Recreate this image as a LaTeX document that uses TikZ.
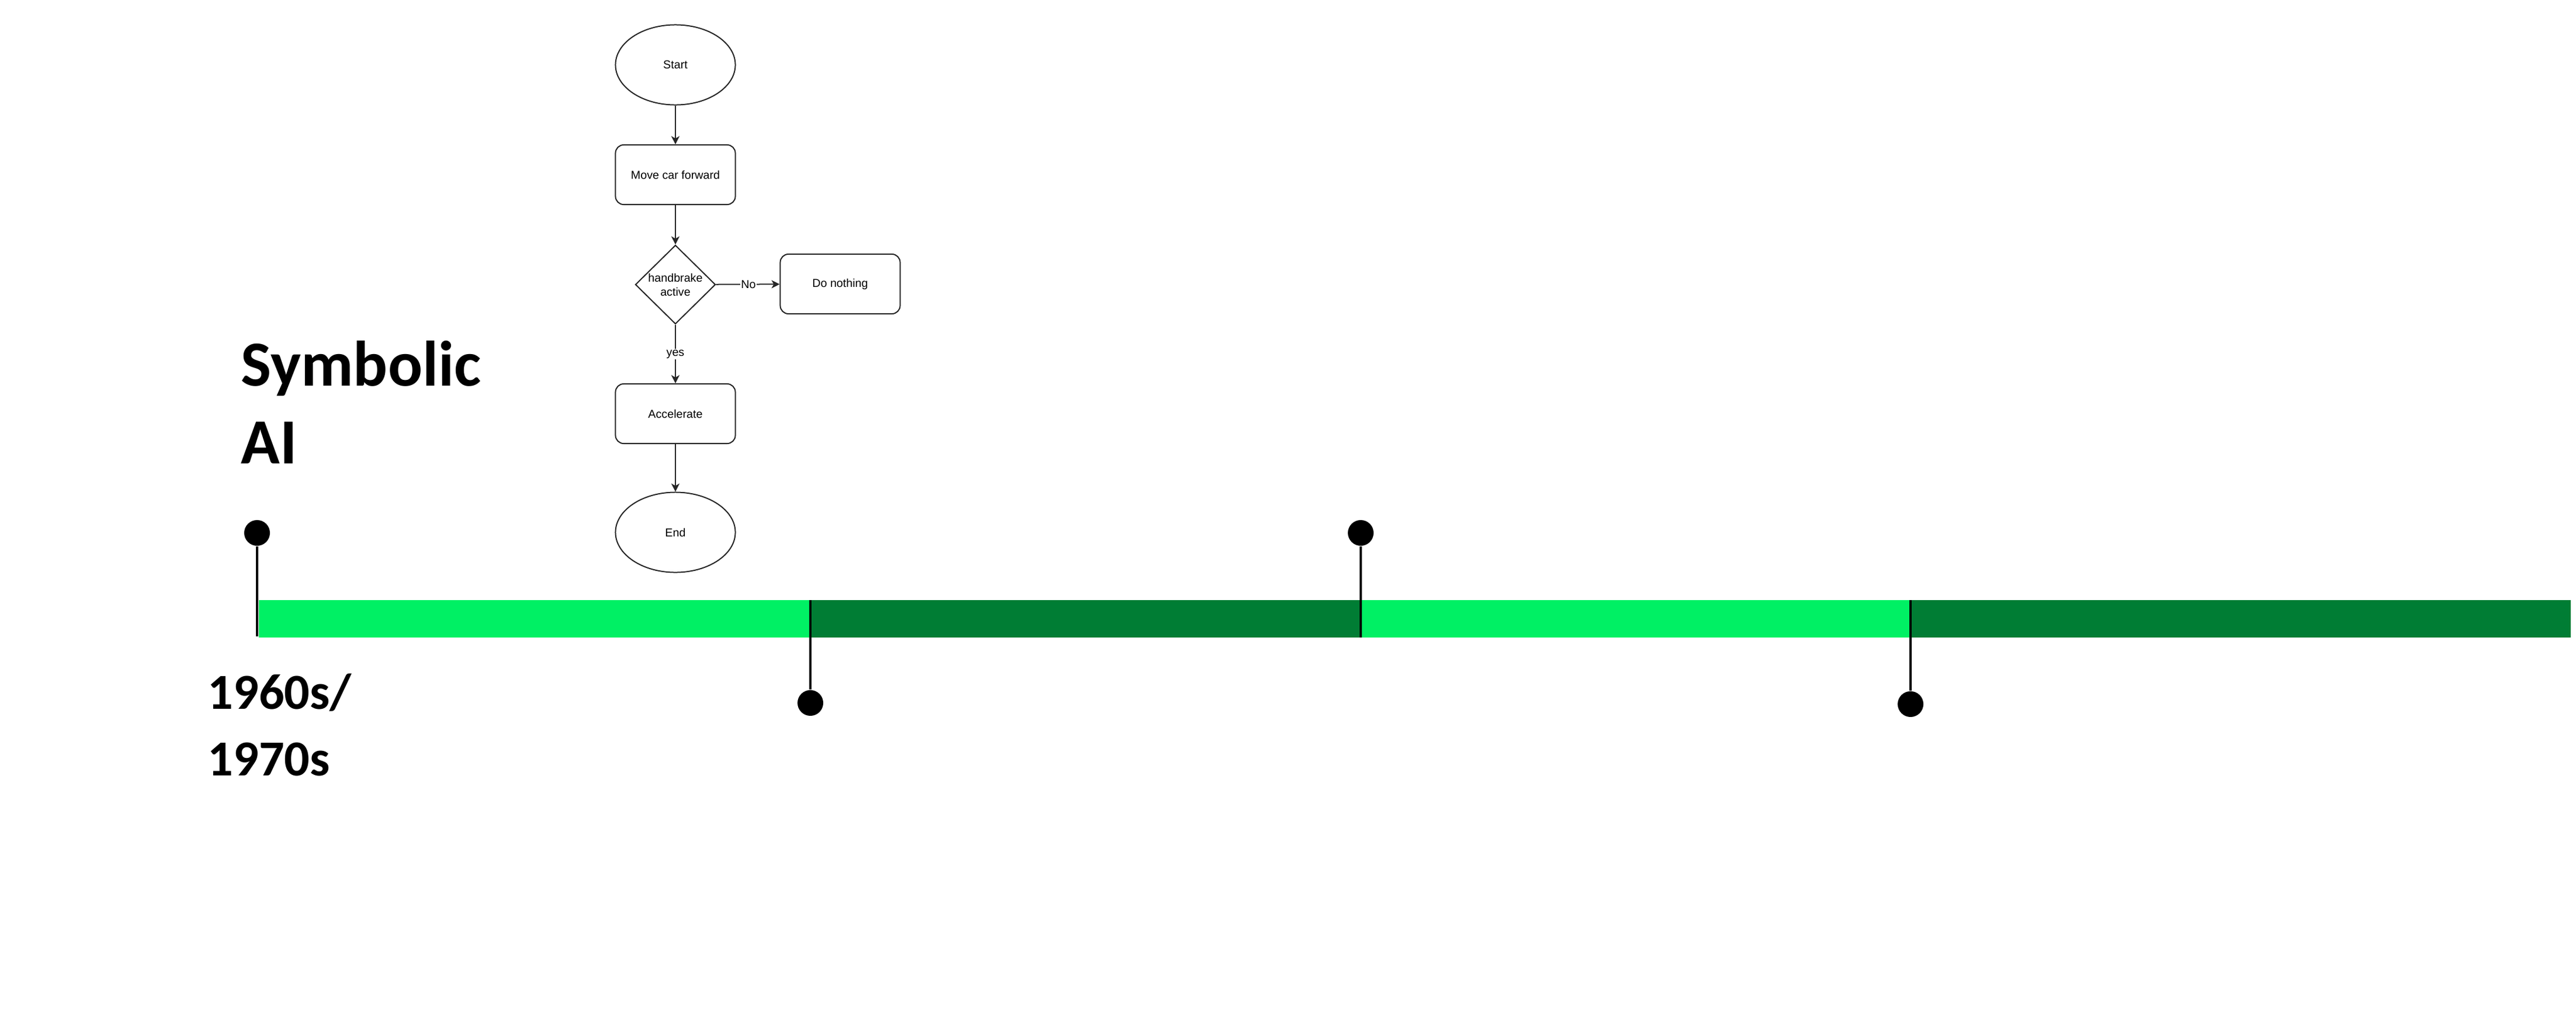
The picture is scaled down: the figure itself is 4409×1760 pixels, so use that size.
\documentclass[tikz,border=0pt]{standalone}
\usepackage{fontspec}
\setmainfont{Liberation Sans}
\newfontfamily\calib{Carlito}
\usetikzlibrary{shapes.geometric,arrows.meta}
\definecolor{lgreen}{RGB}{0,240,100}
\definecolor{dgreen}{RGB}{0,125,52}
\tikzset{
  flow/.style={draw=black!85, line width=0.02cm, inner sep=0pt, align=center,
    font=\fontsize{5.6}{6.8}\selectfont},
  oval/.style={flow, ellipse, minimum width=2.05cm, minimum height=1.37cm},
  procbox/.style={flow, rectangle, rounded corners=0.14cm, minimum width=2.05cm, minimum height=1.02cm},
  decis/.style={flow, diamond, minimum width=1.37cm, minimum height=1.35cm},
  flowarrow/.style={draw=black!85, line width=0.02cm, -{Stealth[length=0.14cm,width=0.14cm,inset=0.04cm]}},
  edgelabel/.style={fill=white, inner sep=0.5pt, font=\fontsize{5.6}{6.8}\selectfont},
  dotnode/.style={circle, fill=black, inner sep=0pt, minimum size=0.44cm},
  stem/.style={line width=0.035cm, black},
  bigtitle/.style={anchor=base west, inner sep=0pt, align=left,
    font=\calib\bfseries\fontsize{31.3}{37.8}\selectfont},
  datetitle/.style={anchor=base west, inner sep=0pt, align=left,
    font=\calib\bfseries\fontsize{24.5}{32.4}\selectfont},
}
\begin{document}
\begin{tikzpicture}[x=0.01cm,y=-0.01cm]
\useasboundingbox (0,0) rectangle (4409,1760);
% flowchart
\node[oval] (start) at (1156,111) {Start};
\node[procbox] (move) at (1156,299) {Move car forward};
\node[decis] (dec) at (1156,487) {};
\node[flow, draw=none] (dectext) at (1156,487) {handbrake\\active};
\node[procbox] (nothing) at (1438,486) {Do nothing};
\node[procbox] (acc) at (1156,708) {Accelerate};
\node[oval] (end) at (1156,911) {End};
\draw[flowarrow] (start) -- (move);
\draw[flowarrow] (move) -- (dec);
\draw[flowarrow] (dec) -- node[edgelabel, pos=0.51] {No} (nothing);
\draw[flowarrow] (dec) -- node[edgelabel, pos=0.5] {yes} (acc);
\draw[flowarrow] (acc) -- (end);
% timeline bar
\fill[lgreen] (443,1027) rectangle (1387,1091);
\fill[dgreen] (1387,1027) rectangle (2329,1091);
\fill[lgreen] (2329,1027) rectangle (3270,1091);
\fill[dgreen] (3270,1027) rectangle (4400,1091);
% markers
\node[dotnode] (m1) at (440,912) {};
\node[dotnode] (m2) at (1387,1203) {};
\node[dotnode] (m3) at (2329,912) {};
\node[dotnode] (m4) at (3270,1205) {};
\coordinate (b1) at (440,1089);
\coordinate (b2) at (1387,1027);
\coordinate (b3) at (2329,1091);
\coordinate (b4) at (3270,1027);
\draw[stem] (m1) -- (b1);
\draw[stem] (b2) -- (m2);
\draw[stem] (m3) -- (b3);
\draw[stem] (b4) -- (m4);
% texts
\node[bigtitle] (title) at (412,793) {Symbolic\\AI};
\node[datetitle] (dates) at (355,1327) {1960s/\\1970s};
\end{tikzpicture}
\end{document}
